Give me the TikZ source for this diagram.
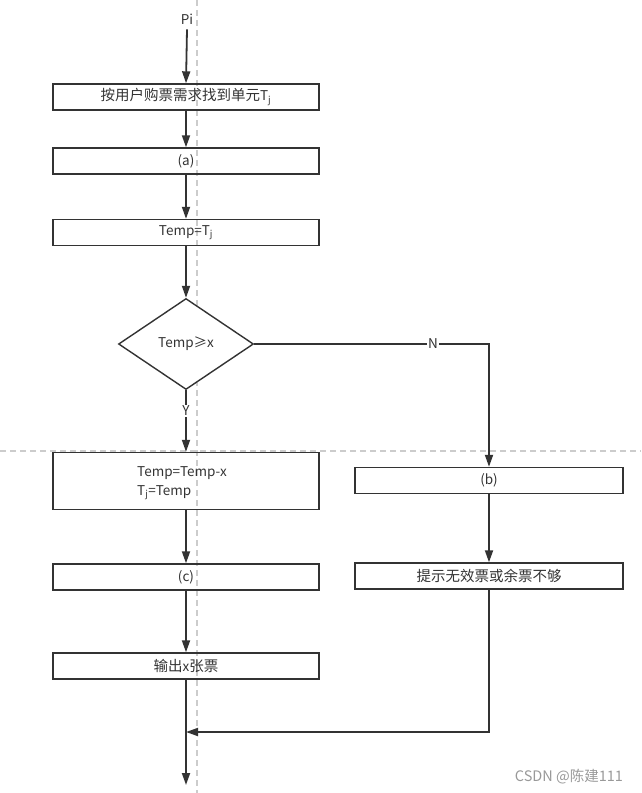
\documentclass[tikz,border=0pt]{standalone}
\usepackage{fontspec}
\setmainfont{Noto Sans CJK SC}
\usetikzlibrary{arrows.meta,shapes.geometric}
\definecolor{ln}{HTML}{333333}
\definecolor{guide}{HTML}{CCCCCC}
\definecolor{wm}{HTML}{999999}
\newcommand{\zh}[1]{{\fontsize{14.5}{16}\selectfont #1}}
\tikzset{
  box/.style={draw=ln,line width=1.4pt,minimum width=266pt,minimum height=26pt,inner sep=0pt,text=ln,font=\fontsize{13.5}{15}\selectfont},
  arr/.style={draw=ln,line width=1.8pt,-{Triangle[width=8pt,length=12pt]}},
  plain/.style={draw=ln,line width=1.8pt},
  lbl/.style={text=ln,font=\fontsize{13.5}{15}\selectfont,inner sep=1pt},
  guideline/.style={draw=guide,line width=1.3pt,dash pattern=on 6pt off 4pt}
}
\begin{document}
\begin{tikzpicture}[x=1pt,y=-1pt]
\useasboundingbox (0,0) rectangle (641,793);
% guides
\draw[guideline] (197,0) -- (197,793);
\draw[guideline] (0,451) -- (641,451);
% nodes
\node[lbl] (pi) at (187,19) {Pi};
\node[box] (b1) at (186,97) {\zh{按用户购票需求找到单元}T\textsubscript{j}};
\node[box] (b2) at (186,161) {(a)};
\node[box] (b3) at (186,232.5) {Temp=T\textsubscript{j}};
\node[draw=ln,line width=1.4pt,shape=diamond,minimum width=135pt,minimum height=91pt,inner sep=0pt,text=ln,font=\fontsize{13.5}{15}\selectfont,fill=white] (d) at (186,344) {Temp≥x};
\node[lbl,fill=white] (Y) at (186,411) {Y};
\node[lbl,fill=white] (N) at (433,344) {N};
\node[box,minimum height=57pt] (b4) at (186,481) {};
\node[lbl,anchor=west,align=left,font=\fontsize{13.5}{19}\selectfont] (b4t) at (136,483) {Temp=Temp-x\\T\textsubscript{j}=Temp};
\node[box] (bc) at (186,577) {(c)};
\node[box] (bo) at (186,666) {\zh{输出}x\zh{张票}};
\node[box,minimum width=268pt] (bb) at (489,480.5) {(b)};
\node[box,minimum width=268pt] (bh) at (489,576) {\zh{提示无效票或余票不够}};
\coordinate (m) at (186,732);
\coordinate (e) at (186,785);
\node[text=wm,font=\fontsize{14.5}{16}\selectfont,inner sep=0pt] (w) at (569,777) {CSDN @陈建111};
% connectors
\draw[arr] (pi.south) ++(0,4) -- (b1.north);
\draw[arr] (b1) -- (b2);
\draw[arr] (b2) -- (b3);
\draw[arr] (b3) -- (d);
\draw[plain] (d.south) -- (Y.north);
\draw[arr] (Y.south) -- (b4.north);
\draw[plain] (d.east) -- (N.west);
\draw[arr] (N.east) -| (bb.north);
\draw[arr] (bb) -- (bh);
\draw[arr] (bc.north |- b4.south) -- (bc.north);
\draw[arr] (bc) -- (bo);
\draw[arr] (bo) -- (e);
\draw[arr] (bh.south) |- (m);
\end{tikzpicture}
\end{document}
